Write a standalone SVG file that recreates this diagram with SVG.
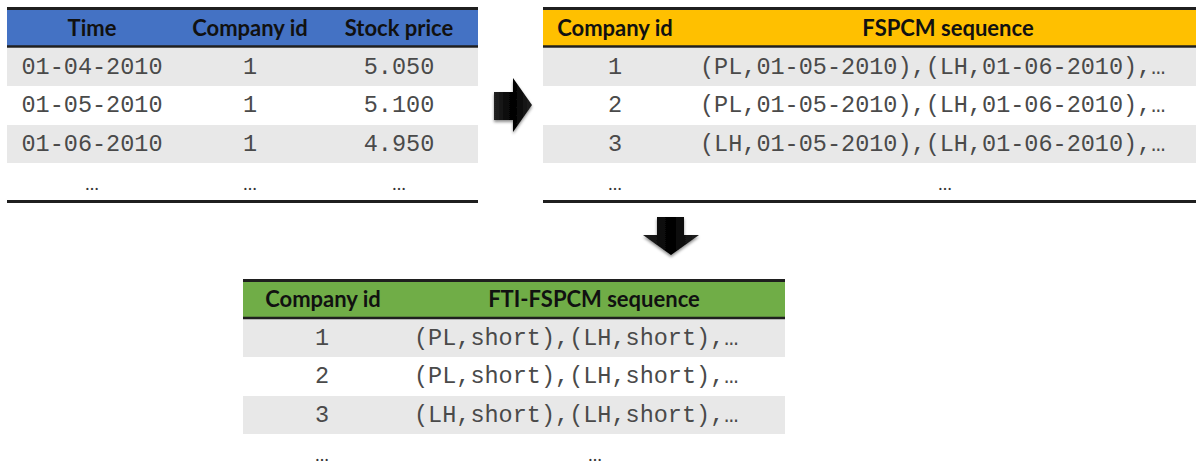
<svg xmlns="http://www.w3.org/2000/svg" width="1198" height="470" viewBox="0 0 1198 470">
<style>
.hd{font-family:Lato,"Open Sans","Liberation Sans",sans-serif;font-weight:bold;font-size:22px;fill:#111;text-anchor:middle}
.mono{font-family:"Liberation Mono","Courier New",monospace;font-size:23.5px;fill:#4a4a4a}
.mc{text-anchor:middle}
.dots{font-family:Lato,"Liberation Sans",sans-serif;font-size:18px;fill:#333;text-anchor:middle}
.gray{fill:#E8E8E8}
.rule{stroke:#1f1f1f;stroke-width:3}
.hrule{stroke:#1f1f1f;stroke-width:2.5}
.arrow{fill:url(#ag);filter:url(#sh)}
</style>
<defs>
<linearGradient id="ag" x1="0" y1="0" x2="1" y2="0">
<stop offset="0" stop-color="#222"/><stop offset="0.5" stop-color="#000"/><stop offset="1" stop-color="#222"/>
</linearGradient>
<filter id="sh" x="-30%" y="-30%" width="160%" height="160%">
<feGaussianBlur in="SourceAlpha" stdDeviation="1.5"/>
<feOffset dx="0" dy="1.5" result="b"/>
<feFlood flood-color="#000" flood-opacity="0.45"/>
<feComposite in2="b" operator="in"/>
<feMerge><feMergeNode/><feMergeNode in="SourceGraphic"/></feMerge>
</filter>
</defs>
<rect width="1198" height="470" fill="#fff"/>

<g id="table-stock">
<rect x="7" y="8" width="471" height="39" fill="#4472C4"/>
<rect class="gray" x="7" y="48" width="471" height="38"/>
<rect class="gray" x="7" y="125" width="471" height="38"/>
<line class="rule" x1="7" y1="8.5" x2="478" y2="8.5"/>
<line class="hrule" x1="7" y1="46.5" x2="478" y2="46.5"/>
<line class="rule" x1="7" y1="201.5" x2="478" y2="201.5"/>
<text class="hd" x="92" y="36">Time</text>
<text class="hd" x="250" y="36">Company id</text>
<text class="hd" x="399" y="36">Stock price</text>
<text class="mono mc" x="92" y="74">01-04-2010</text>
<text class="mono mc" x="250" y="74">1</text>
<text class="mono mc" x="399" y="74">5.050</text>
<text class="mono mc" x="92" y="112">01-05-2010</text>
<text class="mono mc" x="250" y="112">1</text>
<text class="mono mc" x="399" y="112">5.100</text>
<text class="mono mc" x="92" y="151">01-06-2010</text>
<text class="mono mc" x="250" y="151">1</text>
<text class="mono mc" x="399" y="151">4.950</text>
<text class="dots" x="92" y="190">…</text>
<text class="dots" x="250" y="190">…</text>
<text class="dots" x="399" y="190">…</text>
</g>

<g id="table-fspcm">
<rect x="543" y="8" width="653" height="39" fill="#FFC000"/>
<rect class="gray" x="543" y="48" width="653" height="38"/>
<rect class="gray" x="543" y="125" width="653" height="38"/>
<line class="rule" x1="543" y1="8.5" x2="1196" y2="8.5"/>
<line class="hrule" x1="543" y1="46.5" x2="1196" y2="46.5"/>
<line class="rule" x1="543" y1="201.5" x2="1196" y2="201.5"/>
<text class="hd" x="615" y="36">Company id</text>
<text class="hd" x="948" y="36">FSPCM sequence</text>
<text class="mono mc" x="615" y="74">1</text>
<text class="mono" x="700" y="74">(PL,01-05-2010),(LH,01-06-2010),…</text>
<text class="mono mc" x="615" y="112">2</text>
<text class="mono" x="700" y="112">(PL,01-05-2010),(LH,01-06-2010),…</text>
<text class="mono mc" x="615" y="151">3</text>
<text class="mono" x="700" y="151">(LH,01-05-2010),(LH,01-06-2010),…</text>
<text class="dots" x="615" y="190">…</text>
<text class="dots" x="945" y="190">…</text>
</g>

<g id="table-fti">
<rect x="243" y="280" width="542" height="38" fill="#70AD47"/>
<rect class="gray" x="243" y="319" width="542" height="38"/>
<rect class="gray" x="243" y="396" width="542" height="38"/>
<line class="rule" x1="243" y1="280.5" x2="785" y2="280.5"/>
<line class="hrule" x1="243" y1="318" x2="785" y2="318"/>
<text class="hd" x="323" y="307">Company id</text>
<text class="hd" x="594" y="307">FTI-FSPCM sequence</text>
<text class="mono mc" x="322" y="345">1</text>
<text class="mono" x="414" y="345">(PL,short),(LH,short),…</text>
<text class="mono mc" x="322" y="383">2</text>
<text class="mono" x="414" y="383">(PL,short),(LH,short),…</text>
<text class="mono mc" x="322" y="422">3</text>
<text class="mono" x="414" y="422">(LH,short),(LH,short),…</text>
<text class="dots" x="322" y="461">…</text>
<text class="dots" x="595" y="461">…</text>
</g>

<g id="connectors">
<polygon class="arrow" points="494,92 513,92 513,78 532,105 513,132 513,120 494,120"/>
<polygon class="arrow" points="657,217 684,217 684,235 699,235 671,255 643,235 657,235"/>
</g>
</svg>
